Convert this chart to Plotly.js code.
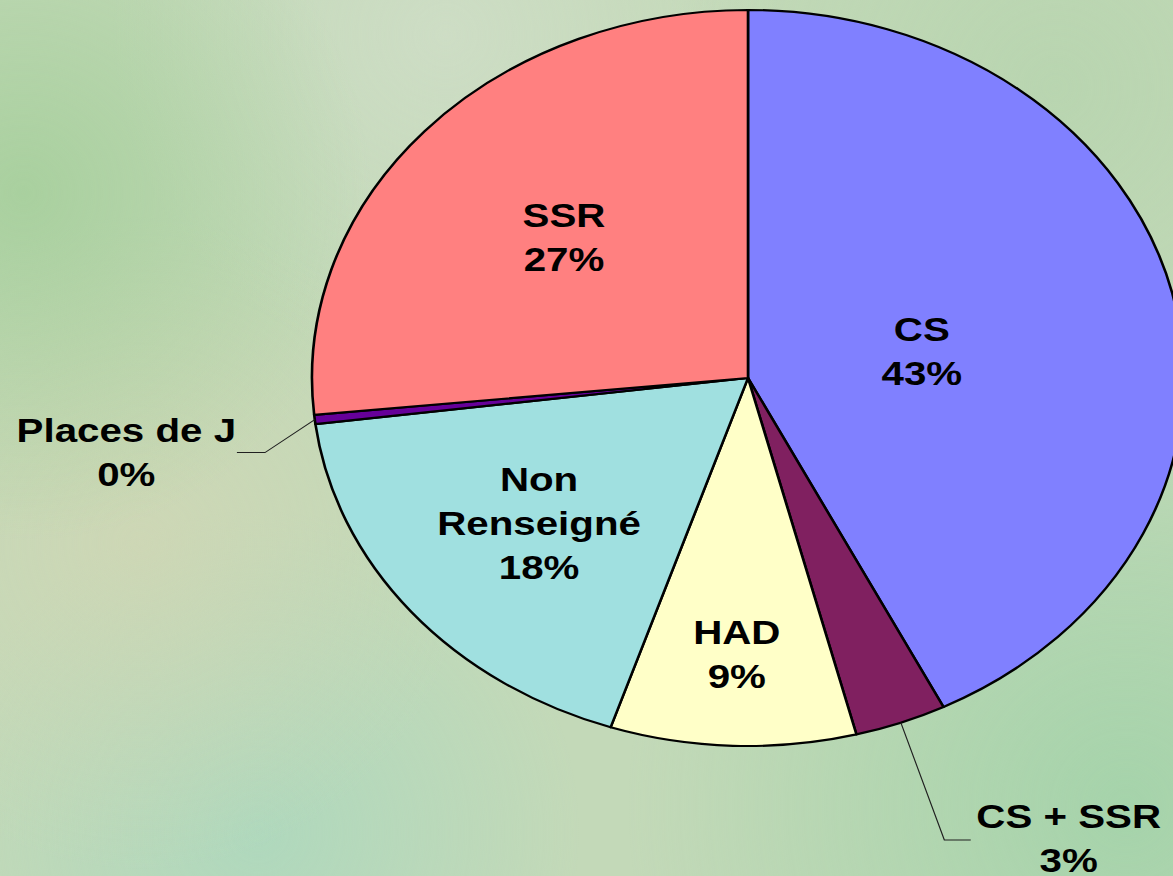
<!DOCTYPE html>
<html>
<head>
<meta charset="utf-8">
<script src="https://cdn.plot.ly/plotly-3.0.1.min.js"></script>
<style>
  html, body { margin:0; padding:0; width:1173px; height:876px; overflow:hidden; }
  body {
    background:
      radial-gradient(circle at 2% 22%, rgba(160,205,150,0.75), rgba(160,205,150,0) 26%),
      radial-gradient(circle at 12% 62%, rgba(210,214,180,0.7), rgba(210,214,180,0) 28%),
      radial-gradient(circle at 22% 95%, rgba(170,216,190,0.8), rgba(170,216,190,0) 26%),
      radial-gradient(circle at 96% 92%, rgba(160,210,168,0.85), rgba(160,210,168,0) 36%),
      radial-gradient(circle at 38% 4%, rgba(208,222,200,0.8), rgba(208,222,200,0) 30%),
      radial-gradient(circle at 90% 10%, rgba(182,212,174,0.8), rgba(182,212,174,0) 30%),
      #c3d9b8;
  }
  #wrap { position:absolute; left:0; top:0; width:1100px; height:876px;
          transform: scaleX(1.18485); transform-origin: 0 0; }
  #chart { width:1100px; height:876px; }
</style>
</head>
<body>
<div id="wrap"><div id="chart"></div></div>
<script>
// ---- data ----
const categories = ['CS', 'CS + SSR', 'HAD', 'Non Renseigné', 'Places de J', 'SSR'];
const shares = [42.6, 3.4, 9.1, 17.9, 0.4, 26.6];
const sliceColors = ['#8080FF', '#802060', '#FFFFC8', '#A0E0E0', '#660099', '#FF8080'];

// ---- layout constants ----
const W = 1100, H = 876;
const SX = 1173 / 990;
const CX = 748 / SX, CY = 378, R = 368;
const lineBreaks = { 'Non Renseigné': 'Non<br>Renseigné' };
const insideFrac = { 'CS': 0.41, 'HAD': 0.75, 'Non Renseigné': 0.62, 'SSR': 0.57 };
const labelNudge = { 'CS': [0, 8] };
const outside = {
  'Places de J': { elbow: [-42, 33], end: [-65.7, 33], label: [-159.4, 32.3] },
  'CS + SSR':   { elbow: [36.7, 117.3], end: [59, 117.3], label: [141.2, 115.3] }
};
const labelFont = { family: 'Arial, "Liberation Sans", sans-serif', size: 34, color: '#000', weight: 'bold' };

const px = x => x / W;
const py = y => 1 - y / H;

const total = shares.reduce((a, b) => a + b, 0);
const annotations = [];
const shapes = [];
let cum = 0;
categories.forEach((cat, i) => {
  const mid = (cum + shares[i] / 2) / total * 2 * Math.PI;
  cum += shares[i];
  const dx = Math.sin(mid), dy = -Math.cos(mid);
  const txt = (lineBreaks[cat] || cat) + '<br>' + Math.round(shares[i] / total * 100) + '%';
  let lx, ly;
  if (insideFrac[cat] !== undefined) {
    lx = CX + R * insideFrac[cat] * dx;
    ly = CY + R * insideFrac[cat] * dy;
    if (labelNudge[cat]) { lx += labelNudge[cat][0]; ly += labelNudge[cat][1]; }
  } else {
    const o = outside[cat];
    const sx0 = CX + R * dx, sy0 = CY + R * dy;
    const ex = sx0 + o.elbow[0], ey = sy0 + o.elbow[1];
    const fx = sx0 + o.end[0], fy = sy0 + o.end[1];
    shapes.push({
      type: 'path', xref: 'paper', yref: 'paper',
      path: `M ${px(sx0)} ${py(sy0)} L ${px(ex)} ${py(ey)} L ${px(fx)} ${py(fy)}`,
      line: { color: '#202020', width: 1 }
    });
    lx = sx0 + o.label[0];
    ly = sy0 + o.label[1];
  }
  annotations.push({
    xref: 'paper', yref: 'paper', x: px(lx), y: py(ly),
    xanchor: 'center', yanchor: 'middle', showarrow: false, align: 'center',
    text: txt, font: labelFont
  });
});

const trace = {
  type: 'pie',
  labels: categories,
  values: shares,
  sort: false,
  direction: 'clockwise',
  rotation: 0,
  textinfo: 'none',
  hoverinfo: 'none',
  marker: { colors: sliceColors, line: { color: '#000', width: 2.2 } },
  domain: { x: [(CX - R) / W, (CX + R) / W], y: [1 - (CY + R) / H, 1 - (CY - R) / H] }
};

const layout = {
  width: W, height: H,
  margin: { l: 0, r: 0, t: 0, b: 0 },
  paper_bgcolor: 'rgba(0,0,0,0)',
  plot_bgcolor: 'rgba(0,0,0,0)',
  showlegend: false,
  annotations: annotations,
  shapes: shapes
};

Plotly.newPlot('chart', [trace], layout, { staticPlot: true, displayModeBar: false });
</script>
</body>
</html>
